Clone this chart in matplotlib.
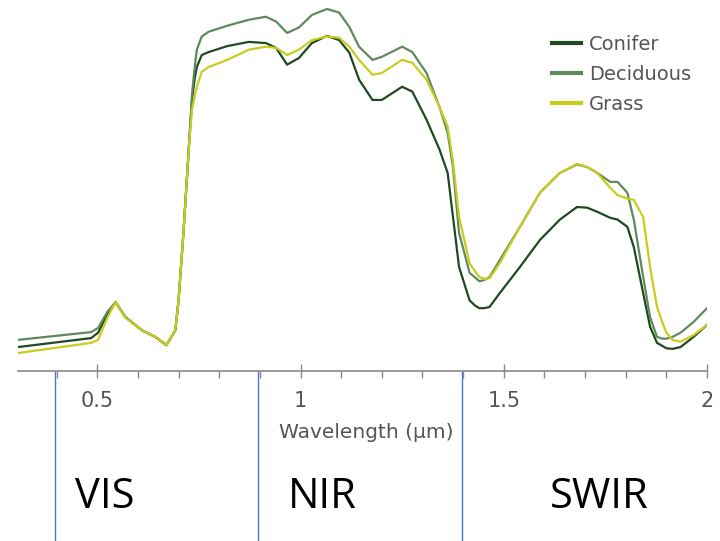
import matplotlib
matplotlib.use("Agg")
import numpy as np
import matplotlib.pyplot as plt
from matplotlib.ticker import MultipleLocator

# wavelength (um) and reflectance
wavelength = [0.305, 0.485, 0.502, 0.525, 0.545, 0.569, 0.61, 0.643, 0.67, 0.692,
              0.70, 0.712, 0.725, 0.733, 0.74, 0.745, 0.757, 0.774, 0.82, 0.873,
              0.915, 0.94, 0.967, 0.996, 1.028, 1.065, 1.095, 1.12, 1.144, 1.177,
              1.2, 1.25, 1.275, 1.31, 1.342, 1.362, 1.375, 1.39, 1.416, 1.43,
              1.44, 1.452, 1.465, 1.49, 1.54, 1.589, 1.638, 1.68, 1.705, 1.73,
              1.762, 1.78, 1.804, 1.82, 1.843, 1.86, 1.877, 1.89, 1.9, 1.915,
              1.935, 1.967, 2.0]

conifer = [0.040, 0.055, 0.064, 0.095, 0.115, 0.090, 0.068, 0.057, 0.043, 0.068,
           0.118, 0.231, 0.370, 0.453, 0.490, 0.508, 0.528, 0.533, 0.543, 0.550,
           0.548, 0.540, 0.512, 0.523, 0.548, 0.560, 0.553, 0.532, 0.487, 0.453,
           0.453, 0.475, 0.467, 0.420, 0.370, 0.331, 0.258, 0.174, 0.118, 0.109,
           0.105, 0.105, 0.107, 0.130, 0.174, 0.219, 0.253, 0.274, 0.273, 0.266,
           0.256, 0.253, 0.241, 0.207, 0.130, 0.074, 0.047, 0.042, 0.038, 0.037,
           0.040, 0.057, 0.077]

deciduous = [0.052, 0.065, 0.072, 0.099, 0.115, 0.090, 0.068, 0.057, 0.043, 0.068,
             0.118, 0.231, 0.370, 0.462, 0.510, 0.537, 0.559, 0.567, 0.577, 0.587,
             0.592, 0.584, 0.565, 0.574, 0.595, 0.605, 0.599, 0.575, 0.542, 0.520,
             0.525, 0.542, 0.533, 0.498, 0.441, 0.398, 0.341, 0.231, 0.164, 0.156,
             0.150, 0.152, 0.157, 0.185, 0.241, 0.298, 0.331, 0.345, 0.341, 0.331,
             0.316, 0.316, 0.298, 0.253, 0.157, 0.090, 0.057, 0.054, 0.054, 0.057,
             0.064, 0.082, 0.105]

grass = [0.030, 0.047, 0.052, 0.089, 0.115, 0.089, 0.068, 0.057, 0.043, 0.068,
         0.118, 0.231, 0.370, 0.436, 0.460, 0.475, 0.500, 0.508, 0.520, 0.537,
         0.542, 0.540, 0.528, 0.537, 0.553, 0.559, 0.557, 0.542, 0.520, 0.495,
         0.498, 0.520, 0.515, 0.487, 0.441, 0.408, 0.351, 0.258, 0.180, 0.166,
         0.157, 0.154, 0.155, 0.180, 0.241, 0.298, 0.331, 0.346, 0.341, 0.331,
         0.306, 0.294, 0.288, 0.286, 0.257, 0.174, 0.107, 0.082, 0.064, 0.052,
         0.049, 0.060, 0.077]

series = [("Conifer", conifer, "#1f4a1f"),
          ("Deciduous", deciduous, "#5e8a5e"),
          ("Grass", grass, "#c9cc1e")]

regions = ["VIS", "NIR", "SWIR"]
region_edges = [0.395, 0.895, 1.397]
region_text_x = [75, 288, 550]  # pixel positions of the labels

fig = plt.figure(figsize=(7.2, 5.41), dpi=100)
ax = fig.add_axes([18 / 720, 170 / 541, 689 / 720, 371 / 541])

for name, vals, col in series:
    ax.plot(wavelength, vals, color=col, lw=1.6, label=name)

ax.set_xlim(0.305, 2.0)
ax.set_ylim(0, 0.62)

for s in ["top", "right", "left"]:
    ax.spines[s].set_visible(False)
ax.spines["bottom"].set_color("#8a8a8a")
ax.spines["bottom"].set_linewidth(1.2)
ax.set_yticks([])

ax.xaxis.set_minor_locator(MultipleLocator(0.1))
ax.set_xticks([0.5, 1.0, 1.5, 2.0])
ax.set_xticklabels(["0.5", "1", "1.5", "2"])
ax.tick_params(axis="x", which="major", direction="inout", length=9.5,
               width=1, color="#8a8a8a", labelsize=15, labelcolor="#555555", pad=10)
ax.tick_params(axis="x", which="minor", direction="out", length=5,
               width=1, color="#8a8a8a")

fig.text(366 / 720, 1 - 432 / 541, "Wavelength (\u00b5m)", ha="center", va="center",
         fontsize=14.5, color="#555555")

leg = ax.legend(loc="upper left", bbox_to_anchor=((552 - 18) / 689, 1 - 35 / 371),
                bbox_transform=ax.transAxes, frameon=False, fontsize=14,
                handlelength=1.5, handletextpad=0.4, labelspacing=0.56,
                borderaxespad=0, borderpad=0)
for line in leg.get_lines():
    line.set_linewidth(3)
for t in leg.get_texts():
    t.set_color("#555555")

# band borders below the axis
ax.vlines(region_edges, -170 / 371, 0, transform=ax.get_xaxis_transform(),
          colors="#4a78d0", lw=1, clip_on=False)

for label, px in zip(regions, region_text_x):
    fig.text(px / 720, 1 - 497 / 541, label, ha="left", va="center",
             fontsize=30, family=["Open Sans", "DejaVu Sans"], color="black")

fig.savefig("out.png", dpi=100)
